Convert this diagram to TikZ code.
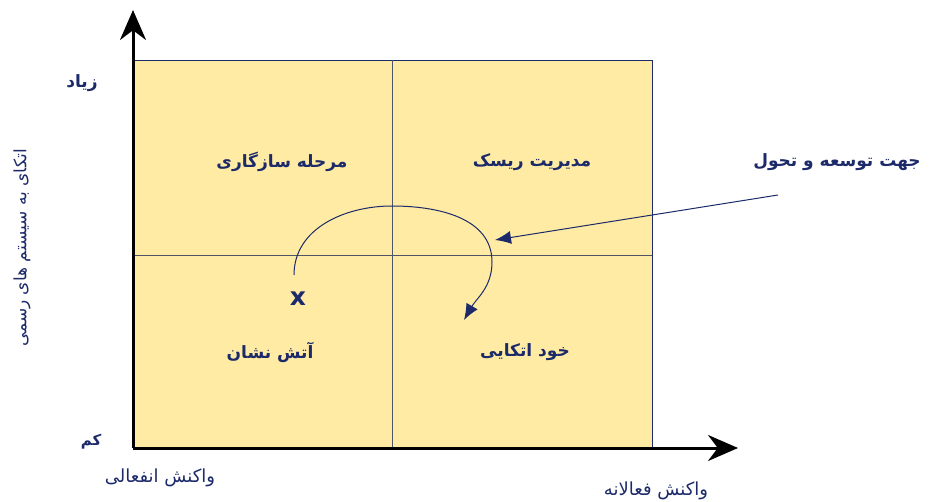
\documentclass[tikz,border=0pt]{standalone}
\usepackage{fontspec}
\newfontfamily\fa[Script=Arabic]{DejaVu Sans}
\newfontfamily\lat{DejaVu Sans}
\TeXXeTstate=1
\usetikzlibrary{arrows.meta}
\definecolor{quadfill}{HTML}{FFEBA3}
\definecolor{navy}{HTML}{1C2A6A}
\definecolor{gridline}{HTML}{505468}
\begin{document}
\begin{tikzpicture}[x=1pt,y=-1pt,
  lbl/.style={text=navy,font=\fa\bfseries\fontsize{17}{19}\selectfont,inner sep=0pt},
  axlbl/.style={text=navy,font=\fa\fontsize{18}{20}\selectfont,inner sep=0pt},
  axis/.style={line width=3pt,-{Stealth[length=30pt,width=26pt]}},
  divider/.style={gridline,line width=1pt},
  flow/.style={navy,line width=1pt,-{Latex[length=16pt,width=13pt]}}]
\useasboundingbox (0,0) rectangle (929,502);
\fill[quadfill] (133,60) rectangle (652,448);
\draw[navy,line width=0.8pt] (133,60) -- (652,60) -- (652,448);
\coordinate (vtop) at (392,60);
\coordinate (vbot) at (392,448);
\coordinate (hl) at (133,256);
\coordinate (hr) at (652,256);
\draw[divider] (vtop) -- (vbot);
\draw[divider] (hl) -- (hr);
\coordinate (o) at (133,448);
\coordinate (ytip) at (133,10);
\coordinate (xtip) at (738,448);
\draw[axis] (o) -- (ytip);
\draw[axis] (o) -- (xtip);
\node[lbl] (high) at (82,83) {\beginR زیاد\endR};
\node[lbl,font=\fa\bfseries\fontsize{15}{17}\selectfont] (low) at (91,442) {\beginR کم\endR};
\node[axlbl,font=\fa\fontsize{17}{19}\selectfont,rotate=90] (yl) at (22,248) {\beginR اتکای به سیستم های رسمی\endR};
\node[lbl] (q1) at (282,162) {\beginR مرحله سازگاری\endR};
\node[lbl] (q2) at (532,162) {\beginR مدیریت ریسک\endR};
\node[lbl] (q3) at (270,352) {\beginR آتش نشان\endR};
\node[lbl] (q4) at (525,352) {\beginR خود اتکایی\endR};
\node[text=navy,font=\lat\bfseries\fontsize{25}{27}\selectfont,inner sep=0pt] (x) at (298,299) {x};
\node[lbl] (dir) at (837,162) {\beginR جهت توسعه و تحول\endR};
\node[axlbl] (passive) at (160,478) {\beginR واکنش انفعالی\endR};
\node[axlbl] (active) at (656,491) {\beginR واکنش فعالانه\endR};
\coordinate (a0) at (294,275);
\coordinate (atop) at (392,206);
\coordinate (aright) at (492,262);
\coordinate (aend) at (464,320);
\draw[flow] (a0) to[out=90,in=180] (atop) to[out=0,in=90] (aright) to[out=-90,in=60] (aend);
\coordinate (dstart) at (778,195);
\coordinate (dend) at (495,240);
\draw[flow] (dstart) -- (dend);
\end{tikzpicture}
\end{document}
